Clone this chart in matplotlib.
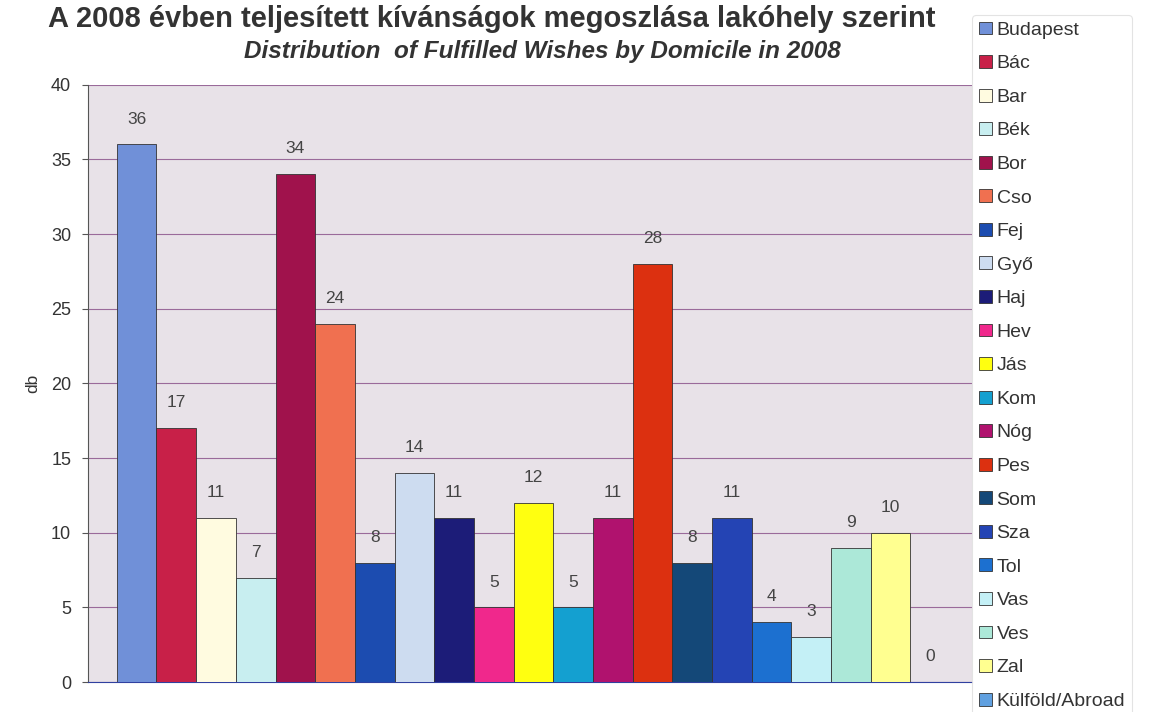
import matplotlib.pyplot as plt
from matplotlib.patches import Patch

plt.rcParams['font.family'] = ['Liberation Sans', 'DejaVu Sans']

regions = ['Budapest', 'Bác', 'Bar', 'Bék', 'Bor', 'Cso', 'Fej', 'Győ', 'Haj', 'Hev', 'Jás',
           'Kom', 'Nóg', 'Pes', 'Som', 'Sza', 'Tol', 'Vas', 'Ves', 'Zal', 'Külföld/Abroad']
counts = [36, 17, 11, 7, 34, 24, 8, 14, 11, 5, 12, 5, 11, 28, 8, 11, 4, 3, 9, 10, 0]
colors = ['#7090d8', '#c82048', '#fffbe0', '#c8eef0', '#a0124c', '#f07050', '#1c4cb0',
          '#cddcf0', '#1c1c78', '#f0288c', '#ffff10', '#14a0d0', '#b0126e', '#dc3010',
          '#144878', '#2444b4', '#1c70d0', '#c4f0f6', '#ace8d8', '#ffff90', '#60a0e0']

yticks = [0, 5, 10, 15, 20, 25, 30, 35, 40]

fig = plt.figure(figsize=(11.71, 7.12), dpi=100)
ax = fig.add_axes([0.075, 0.042, 0.755, 0.839])
ax.set_facecolor('#e8e2e8')

x = list(range(len(regions)))
ax.bar(x, counts, width=1.0, color=colors, edgecolor='#333333', linewidth=0.6, zorder=3)
for xi, v in zip(x, counts):
    ax.text(xi, v + 1.2, str(v), ha='center', va='bottom', fontsize=12.5, color='#444444', zorder=4)

ax.set_xlim(-1.23, 21.05)
ax.set_ylim(0, 40)
ax.set_yticks(yticks)
ax.tick_params(axis='y', labelsize=13, labelcolor='#333333', length=4, color='#555555', pad=8)
ax.set_xticks([])
ax.yaxis.grid(True, color='#9a6a9a', linewidth=0.8, zorder=1)
for side in ['top', 'right']:
    ax.spines[side].set_visible(False)
ax.spines['left'].set_color('#555555')
ax.spines['bottom'].set_color('#3040a0')
ax.set_ylabel('db', fontsize=12.5, color='#333333', labelpad=8)

fig.text(0.42, 0.973, 'A 2008 évben teljesített kívánságok megoszlása lakóhely szerint',
         ha='center', va='center', fontsize=21, fontweight='bold', color='#333333')
fig.text(0.463, 0.927, 'Distribution  of Fulfilled Wishes by Domicile in 2008',
         ha='center', va='center', fontsize=17.5, fontweight='bold', fontstyle='italic', color='#333333')

handles = [Patch(facecolor=c, edgecolor='#333333', linewidth=0.6) for c in colors]
leg = fig.legend(handles, regions, loc='upper left', bbox_to_anchor=(0.822, 0.993),
                 fontsize=14, frameon=True, handlelength=0.65, handleheight=0.65,
                 handletextpad=0.25, labelspacing=0.835, borderpad=0.35)
leg.get_frame().set_edgecolor('#dddddd')
leg.get_frame().set_linewidth(0.8)
for t in leg.get_texts():
    t.set_color('#333333')

fig.savefig('out.png', dpi=100)
